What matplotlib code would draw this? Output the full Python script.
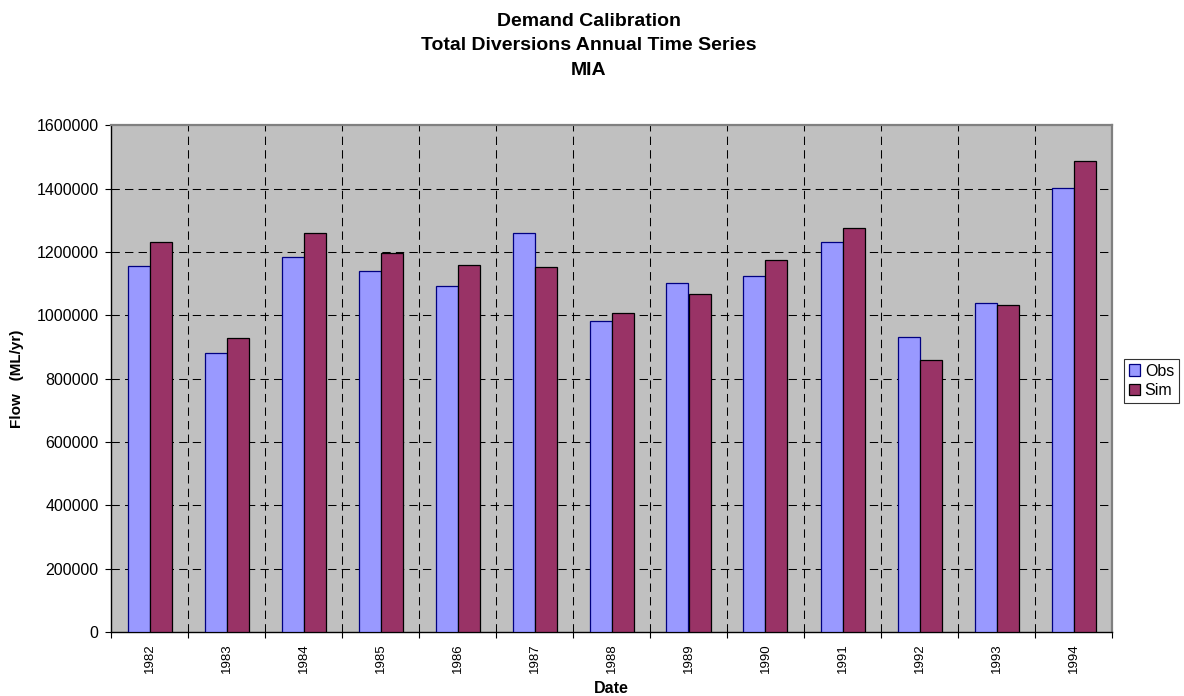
import matplotlib
matplotlib.use("Agg")
import matplotlib.pyplot as plt
from matplotlib.patches import Patch
from matplotlib.ticker import FixedLocator
import numpy as np

# Annual totals (ML/yr)
years = ["1982", "1983", "1984", "1985", "1986", "1987", "1988",
         "1989", "1990", "1991", "1992", "1993", "1994"]
obs = [1155000, 881000, 1184000, 1140000, 1093000, 1259000, 982000,
       1102000, 1125000, 1232000, 932000, 1040000, 1402000]
sim = [1232000, 929000, 1259000, 1197000, 1159000, 1153000, 1008000,
       1069000, 1175000, 1275000, 859000, 1033000, 1488000]
y_ticks = [0, 200000, 400000, 600000, 800000, 1000000, 1200000, 1400000, 1600000]
title_lines = ["Demand Calibration", "Total Diversions Annual Time Series", "MIA"]

plt.rcParams["font.family"] = ["Liberation Sans", "DejaVu Sans"]

W, H = 1184, 696
fig = plt.figure(figsize=(W / 100, H / 100), dpi=100)
fig.patch.set_facecolor("white")

def fx(px):
    return px / W

def fy(py):
    return 1 - py / H

left, right, top, bottom = 111, 1112, 125.3, 632.2
ax = fig.add_axes([fx(left), fy(bottom), fx(right - left), (bottom - top) / H])
ax.set_facecolor("#C0C0C0")

x = np.arange(len(years))
w = 1 / 3.5
ax.bar(x - w / 2, obs, width=w, color="#9999FF", edgecolor="#000080",
       linewidth=0.9, zorder=3, label="Obs")
ax.bar(x + w / 2, sim, width=w, color="#993366", edgecolor="#000000",
       linewidth=0.9, zorder=3, label="Sim")

ax.set_xlim(-0.5, len(years) - 0.5)
ax.set_ylim(0, 1600000)

# category labels at bar-group centres, tick marks and grid at boundaries
ax.set_xticks(x)
ax.set_xticklabels(years, rotation=90, fontsize=9.5)
ax.xaxis.set_minor_locator(FixedLocator(np.arange(-0.5, len(years), 1.0)))
ax.tick_params(axis="x", which="major", length=0, pad=8)
ax.tick_params(axis="x", which="minor", length=4, width=0.8, direction="out",
               color="black")

ax.set_yticks(y_ticks)
ax.set_yticklabels([str(v) for v in y_ticks], fontsize=11.5)
ax.tick_params(axis="y", which="major", length=4, width=0.8, direction="out",
               pad=5, color="black")

dash = (0, (8, 5))
ax.grid(False)
for xv in np.arange(0.5, len(years) - 0.5, 1.0):
    ax.axvline(xv, color="black", linewidth=0.75, linestyle=dash, zorder=1)
for yv in y_ticks[1:-1]:
    ax.axhline(yv, color="black", linewidth=0.75, linestyle=dash, zorder=1)

for side in ("left", "bottom"):
    ax.spines[side].set_color("black")
    ax.spines[side].set_linewidth(1.0)
for side in ("top", "right"):
    ax.spines[side].set_color("#808080")
    ax.spines[side].set_linewidth(1.6)

# Titles
baselines = [26, 50, 75]
for line, by in zip(title_lines, baselines):
    fig.text(fx(589), fy(by), line, ha="center", va="baseline",
             fontsize=14, fontweight="bold")

fig.text(fx(17.5), fy(379), "Flow   (ML/yr)", rotation=90, ha="center",
         va="center", fontsize=11, fontweight="bold")
fig.text(fx(611), fy(693), "Date", ha="center", va="baseline",
         fontsize=11.5, fontweight="bold")

handles = [Patch(facecolor="#9999FF", edgecolor="#000080", linewidth=0.9, label="Obs"),
           Patch(facecolor="#993366", edgecolor="#000000", linewidth=0.9, label="Sim")]
leg = fig.legend(handles=handles, loc="center left",
                 bbox_to_anchor=(fx(1124), fy(381)), fontsize=11.5,
                 frameon=True, fancybox=False, edgecolor="black",
                 handlelength=0.7, handleheight=0.7, handletextpad=0.3,
                 borderpad=0.3, labelspacing=0.3, borderaxespad=0)
leg.get_frame().set_linewidth(0.8)

fig.savefig("out.png", dpi=100, facecolor="white")
